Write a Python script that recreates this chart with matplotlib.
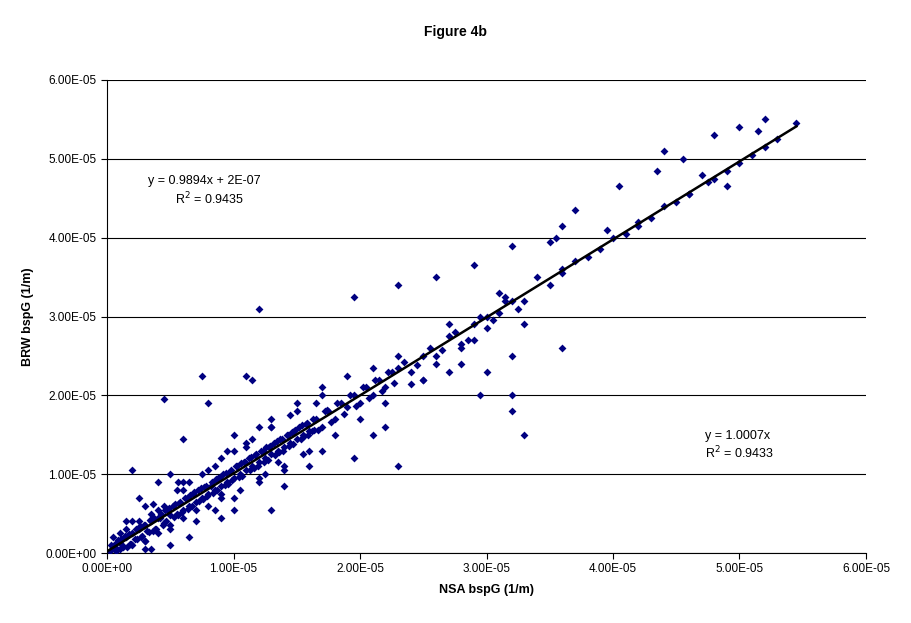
import matplotlib
matplotlib.use("Agg")
import matplotlib.pyplot as plt
import numpy as np
from matplotlib.ticker import FuncFormatter

plt.rcParams["font.family"] = "Liberation Sans"

# values in units of 1e-5 (1/m)
NSA = [
    # cluster near origin
    0.02, 0.05, 0.08, 0.1, 0.12, 0.15, 0.18, 0.2, 0.22, 0.25, 0.28, 0.3, 0.32, 0.35, 0.38, 0.4,
    0.05, 0.1, 0.15, 0.2, 0.25, 0.3, 0.35, 0.4, 0.45, 0.5, 0.1, 0.2, 0.3, 0.4, 0.5, 0.6,
    0.42, 0.45, 0.48, 0.5, 0.52, 0.55, 0.58, 0.6, 0.62, 0.65, 0.68, 0.7, 0.72, 0.75, 0.78, 0.8,
    0.55, 0.6, 0.65, 0.7, 0.75, 0.8, 0.85, 0.9, 0.6, 0.7, 0.8, 0.9, 1.0, 0.3, 0.4, 0.5,
    0.82, 0.85, 0.88, 0.9, 0.92, 0.95, 0.98, 1.0, 1.02, 1.05, 1.08, 1.1, 1.12, 1.15, 1.18, 1.2,
    0.9, 1.0, 1.1, 1.2, 1.3, 0.85, 0.95, 1.05, 1.15, 1.25, 1.0, 1.1, 1.2, 1.3, 1.4, 1.5,
    1.22, 1.25, 1.28, 1.3, 1.32, 1.35, 1.38, 1.4, 1.42, 1.45, 1.48, 1.5, 1.52, 1.55, 1.58, 1.6,
    1.3, 1.4, 1.5, 1.6, 1.7, 1.2, 1.35, 1.45, 1.55, 1.65, 1.62, 1.65, 1.7, 1.75, 1.8, 1.85,
    1.9, 1.95, 2.0, 2.05, 2.1, 2.15, 2.2, 2.25, 1.7, 1.8, 1.9, 2.0, 2.1, 2.2, 2.3, 2.4,
    2.3, 2.4, 2.5, 2.6, 2.7, 2.8, 2.9, 3.0, 3.1, 3.2, 2.5, 2.7, 2.9, 3.1, 3.3, 3.4,
    3.5, 3.6, 3.7, 3.8, 3.9, 4.0, 4.1, 4.2, 4.3, 4.5, 4.6, 4.8, 4.9, 5.1, 5.3, 5.45,
    # scattered outliers
    5.2, 5.0, 4.8, 5.15, 4.4, 4.55, 4.35, 4.7, 4.9, 4.75, 5.0, 5.2, 4.05, 3.7, 3.6, 3.5,
    3.55, 4.2, 4.4, 4.6, 3.95, 3.2, 2.9, 3.6, 3.6, 3.2, 3.3, 3.2, 2.95, 3.0, 3.2, 1.95,
    2.3, 2.6, 1.2, 0.75, 1.1, 1.15, 0.45, 0.8, 0.2, 2.3, 2.1, 1.95, 1.3, 0.35, 0.6, 1.4,
    0.25, 0.5, 0.9, 1.7, 2.5, 2.8, 3.3, 0.65, 1.0, 0.15, 0.3, 1.6, 2.2, 2.7,
    # extra band points
    0.03, 0.07, 0.11, 0.13, 0.17, 0.19, 0.23, 0.27, 0.29, 0.33, 0.37, 0.39, 0.43, 0.47, 0.49, 0.53,
    0.57, 0.59, 0.63, 0.67, 0.69, 0.73, 0.77, 0.79, 0.83, 0.87, 0.89, 0.93, 0.97, 0.99, 1.03, 1.07,
    1.09, 1.13, 1.17, 1.19, 1.23, 1.27, 1.29, 1.33, 1.37, 1.39, 1.43, 1.47, 1.49, 1.53, 1.57, 1.59,
    1.63, 1.67, 1.72, 1.77, 1.82, 1.87, 1.92, 1.97, 2.02, 2.07, 2.12, 2.17, 2.22, 2.27, 2.35, 2.45,
    0.14, 0.24, 0.34, 0.44, 0.54, 0.64, 0.74, 0.84, 0.94, 1.04, 1.14, 1.24, 1.34, 1.44, 1.54, 1.64,
    0.16, 0.26, 0.36, 0.46, 0.56, 0.66, 0.76, 0.86, 0.96, 1.06, 1.16, 1.26, 1.36, 1.46, 1.56, 1.74,
    2.55, 2.65, 2.75, 2.85, 2.95, 3.05, 3.15, 3.25, 2.6, 2.8, 3.0, 3.15, 0.36, 0.56, 0.06, 0.09,
]
BRW = [
    0.02, 0.08, 0.05, 0.15, 0.1, 0.2, 0.12, 0.25, 0.18, 0.3, 0.22, 0.35, 0.28, 0.4, 0.3, 0.45,
    0.2, 0.05, 0.3, 0.1, 0.4, 0.15, 0.5, 0.25, 0.6, 0.35, 0.25, 0.4, 0.15, 0.55, 0.3, 0.8,
    0.45, 0.38, 0.55, 0.48, 0.6, 0.5, 0.65, 0.55, 0.7, 0.6, 0.75, 0.65, 0.8, 0.7, 0.85, 0.75,
    0.8, 0.45, 0.9, 0.55, 1.0, 0.6, 1.1, 0.7, 0.9, 0.4, 1.05, 0.75, 1.3, 0.6, 0.9, 1.0,
    0.85, 0.8, 0.95, 0.85, 1.0, 0.9, 1.05, 0.95, 1.1, 1.0, 1.15, 1.05, 1.2, 1.1, 1.25, 1.15,
    1.2, 0.7, 1.35, 0.95, 1.6, 0.55, 1.3, 0.8, 1.45, 1.0, 1.5, 1.4, 0.9, 1.6, 1.1, 1.9,
    1.3, 1.2, 1.35, 1.25, 1.4, 1.3, 1.45, 1.35, 1.5, 1.4, 1.55, 1.45, 1.6, 1.5, 1.65, 1.55,
    1.7, 1.05, 1.8, 1.3, 2.0, 1.6, 1.15, 1.75, 1.25, 1.9, 1.55, 1.7, 1.6, 1.8, 1.7, 1.9,
    1.85, 2.0, 1.9, 2.1, 2.0, 2.2, 2.1, 2.3, 2.1, 1.5, 2.25, 1.7, 2.35, 1.9, 2.5, 2.15,
    2.35, 2.3, 2.5, 2.5, 2.75, 2.65, 2.9, 3.0, 3.05, 3.2, 2.2, 2.9, 2.7, 3.3, 3.2, 3.5,
    3.4, 3.55, 3.7, 3.75, 3.85, 4.0, 4.05, 4.15, 4.25, 4.45, 4.55, 4.75, 4.85, 5.05, 5.25, 5.45,
    5.5, 5.4, 5.3, 5.35, 5.1, 5.0, 4.85, 4.8, 4.65, 4.7, 4.95, 5.15, 4.65, 4.35, 4.15, 3.95,
    4.0, 4.2, 4.4, 4.55, 4.1, 3.9, 3.65, 3.6, 2.6, 2.5, 1.5, 1.8, 2.0, 2.3, 2.0, 3.25,
    3.4, 3.5, 3.1, 2.25, 2.25, 2.2, 1.95, 1.9, 1.05, 1.1, 1.5, 1.2, 0.55, 0.05, 1.45, 0.85,
    0.7, 0.1, 0.45, 1.3, 2.2, 2.4, 2.9, 0.2, 0.55, 0.4, 0.05, 1.1, 1.6, 2.3,
    0.1, 0.03, 0.18, 0.07, 0.24, 0.12, 0.3, 0.2, 0.36, 0.27, 0.44, 0.31, 0.5, 0.4, 0.57, 0.46,
    0.64, 0.52, 0.7, 0.6, 0.77, 0.66, 0.84, 0.72, 0.9, 0.8, 0.96, 0.86, 1.03, 0.92, 1.1, 0.98,
    1.16, 1.05, 1.24, 1.1, 1.3, 1.18, 1.36, 1.24, 1.44, 1.3, 1.5, 1.38, 1.56, 1.44, 1.64, 1.5,
    1.7, 1.56, 1.8, 1.66, 1.9, 1.76, 2.0, 1.86, 2.1, 1.96, 2.2, 2.06, 2.3, 2.16, 2.42, 2.38,
    0.22, 0.18, 0.42, 0.36, 0.62, 0.56, 0.82, 0.76, 1.02, 0.96, 1.22, 1.16, 1.42, 1.36, 1.62, 1.56,
    0.08, 0.34, 0.28, 0.54, 0.48, 0.74, 0.68, 0.94, 0.88, 1.14, 1.08, 1.34, 1.28, 1.54, 1.48, 1.82,
    2.6, 2.58, 2.8, 2.7, 3.0, 2.95, 3.2, 3.1, 2.4, 2.6, 2.85, 3.25, 0.62, 0.9, 0.12, 0.16,
]
SLOPE, INTERCEPT = 0.9894, 2e-07
FIT_X = [0.0, 5.45]
SCALE = 1e-5

x = np.array(NSA) * SCALE
y = np.array(BRW) * SCALE

fig = plt.figure(figsize=(9.11, 6.23), dpi=100, facecolor="white")
ax = fig.add_axes([107 / 911, 1 - 553 / 623, 759 / 911, 473 / 623])

ax.yaxis.grid(True, color="black", lw=0.8, zorder=0)
ax.set_axisbelow(True)
ax.scatter(x, y, marker="D", s=16, color="#000080", linewidths=0, zorder=3)

fx = np.array(FIT_X) * SCALE
ax.plot(fx, SLOPE * fx + INTERCEPT, color="black", lw=1.8, zorder=4)

ax.set_xlim(0, 6e-5)
ax.set_ylim(0, 6e-5)
ticks = np.arange(0, 7) * 1e-5
ax.set_xticks(ticks)
ax.set_yticks(ticks)
fmt = FuncFormatter(lambda v, p: f"{v:.2E}")
ax.xaxis.set_major_formatter(fmt)
ax.yaxis.set_major_formatter(fmt)
ax.tick_params(labelsize=8.5, length=4, direction="out")
for s in ("top", "right"):
    ax.spines[s].set_visible(False)

ax.set_xlabel("NSA bspG (1/m)", fontsize=9, fontweight="bold", labelpad=6)
ax.set_ylabel("BRW bspG (1/m)", fontsize=9, fontweight="bold", labelpad=8)
fig.text(0.5, 1 - 32 / 623, "Figure 4b", ha="center", va="center",
         fontsize=10, fontweight="bold")

fig.text(148 / 911, 1 - 181 / 623, "y = 0.9894x + 2E-07", fontsize=9, va="center")
fig.text(175 / 911, 1 - 199 / 623, "R$^2$ = 0.9435", fontsize=9, va="center")
fig.text(705 / 911, 1 - 436 / 623, "y = 1.0007x", fontsize=9, va="center")
fig.text(705 / 911, 1 - 453 / 623, "R$^2$ = 0.9433", fontsize=9, va="center")

fig.savefig("out.png", dpi=100, facecolor="white")
